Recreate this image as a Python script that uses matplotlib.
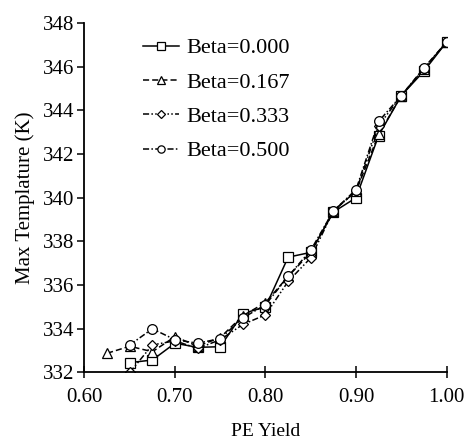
import matplotlib
matplotlib.use("Agg")
import matplotlib.pyplot as plt

plt.rcParams['font.family'] = ['Liberation Serif', 'DejaVu Serif']
plt.rcParams['mathtext.fontset'] = 'stix'

labels = ["Beta=0.000", "Beta=0.167", "Beta=0.333", "Beta=0.500"]

x_b000 = [0.65, 0.675, 0.70, 0.725, 0.75, 0.775, 0.80, 0.825, 0.85, 0.875, 0.90, 0.925, 0.95, 0.975, 1.00]
y_b000 = [332.45, 332.57, 333.34, 333.15, 333.18, 334.7, 335.0, 337.28, 337.5, 339.35, 340.0, 342.85, 344.68, 345.8, 347.13]

x_b167 = [0.625, 0.65, 0.675, 0.70, 0.725, 0.75, 0.775, 0.80, 0.825, 0.85, 0.875, 0.90, 0.925, 0.95, 0.975, 1.00]
y_b167 = [332.88, 333.2, 332.95, 333.64, 333.2, 333.6, 334.6, 335.2, 336.4, 337.5, 339.4, 340.3, 342.9, 344.68, 345.9, 347.13]

x_b333 = [0.65, 0.675, 0.70, 0.725, 0.75, 0.775, 0.80, 0.825, 0.85, 0.875, 0.90, 0.925, 0.95, 0.975, 1.00]
y_b333 = [332.0, 333.26, 333.45, 333.1, 333.5, 334.2, 334.64, 336.17, 337.25, 339.4, 340.3, 343.3, 344.68, 345.9, 347.13]

x_b500 = [0.65, 0.675, 0.70, 0.725, 0.75, 0.775, 0.80, 0.825, 0.85, 0.875, 0.90, 0.925, 0.95, 0.975, 1.00]
y_b500 = [333.26, 334.0, 333.5, 333.34, 333.55, 334.5, 335.1, 336.4, 337.6, 339.4, 340.37, 343.5, 344.68, 345.95, 347.13]

xticks = [0.60, 0.70, 0.80, 0.90, 1.00]
yticks = [332, 334, 336, 338, 340, 342, 344, 346, 348]

fig = plt.figure(figsize=(4.72, 4.45), dpi=100)
ax = fig.add_axes([0.179, 0.163, 0.767, 0.785])

common = dict(color='black', lw=1.1, markerfacecolor='white', markeredgecolor='black',
              markeredgewidth=0.9)
ax.plot(x_b000, y_b000, linestyle='-', marker='s', markersize=7, label=labels[0], **common)
ax.plot(x_b167, y_b167, linestyle=(0, (4, 2)), marker='^', markersize=7, label=labels[1], **common)
ax.plot(x_b333, y_b333, linestyle=(0, (4, 1.5, 1, 1.5, 1, 1.5)), marker='D', markersize=5, label=labels[2], **common)
ax.plot(x_b500, y_b500, linestyle=(0, (4, 1.5, 1, 1.5)), marker='o', markersize=7, label=labels[3], **common)

ax.set_xlim(0.60, 1.00)
ax.set_ylim(332, 348)
ax.set_xticks(xticks)
ax.set_xticklabels([f"{v:.2f}" for v in xticks])
ax.set_yticks(yticks)
ax.set_yticklabels([str(v) for v in yticks])

for s in ['top', 'right']:
    ax.spines[s].set_visible(False)
for s in ['left', 'bottom']:
    ax.spines[s].set_linewidth(1.3)

ax.tick_params(axis='x', direction='inout', length=9, width=1.1, labelsize=15, pad=7)
ax.tick_params(axis='y', direction='out', length=5, width=1.1, labelsize=15, pad=2)

ax.set_xlabel("PE Yield", fontsize=14, labelpad=11)
ax.set_ylabel("Max Templature (K)", fontsize=15, labelpad=6)

leg = ax.legend(loc='upper left', bbox_to_anchor=(0.13, 0.99), frameon=False,
                fontsize=16, handlelength=1.65, handletextpad=0.3, labelspacing=0.62,
                borderpad=0, markerscale=0.75)

fig.savefig("out.png", dpi=100)
